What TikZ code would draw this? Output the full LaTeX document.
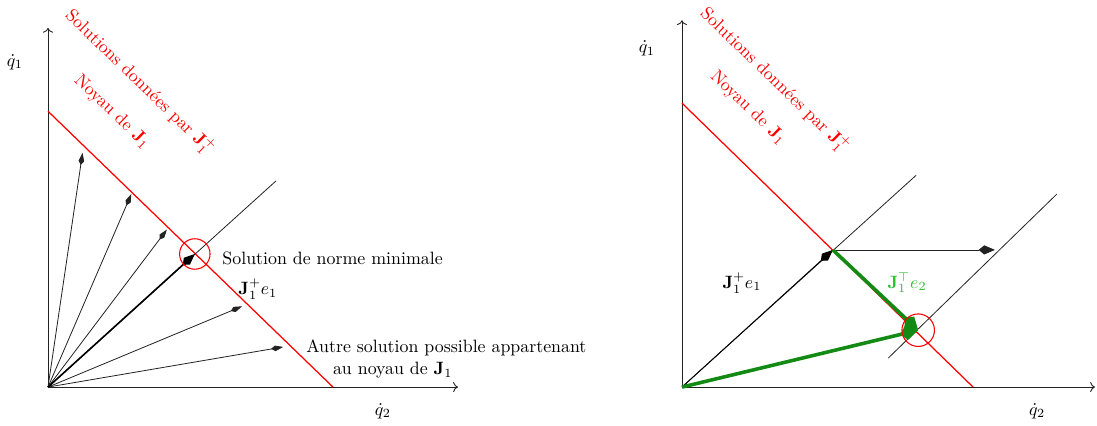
\documentclass[tikz,border=0pt]{standalone}
\usepackage{amsmath,amssymb}
\usetikzlibrary{arrows.meta,positioning,calc}
\definecolor{kgreen}{HTML}{138A13}
\definecolor{klgreen}{HTML}{2EBF2E}
\definecolor{kgray}{HTML}{222222}
\tikzset{
  axis/.style={->, line width=0.5pt, draw=kgray},
  noyau/.style={draw=red, line width=0.7pt},
  diag/.style={line width=0.45pt, draw=kgray},
  sol/.style={-{Kite[length=2.4mm,width=1.1mm,inset=0.8mm]}, line width=0.45pt, draw=kgray},
  solmin/.style={-{Kite[length=3.2mm,width=1.8mm,inset=1.1mm]}, line width=0.9pt, draw=black},
  gvec/.style={-{Kite[length=3.6mm,width=2.8mm,inset=1.2mm]}, line width=2pt, draw=kgreen},
  ring/.style={draw=red, line width=0.6pt},
  redlab/.style={text=red, rotate=-44}
}
\begin{document}
\begin{tikzpicture}
  \useasboundingbox (-0.945,-0.748) rectangle (20.65,7.62);
  % left: fan of solutions
  \begin{scope}
    \coordinate (O1) at (0,0);
    \coordinate (Y1) at (0,7.07);
    \coordinate (X1) at (8.07,0);
    \coordinate (R1a) at (0,5.43);
    \coordinate (R1b) at (5.61,0);
    \coordinate (D1) at (4.49,4.06);
    \coordinate (I1) at (2.89,2.62);
    \draw[axis] (O1) -- (Y1);
    \draw[axis] (O1) -- (X1);
    \draw[noyau] (R1a) -- (R1b);
    \draw[diag] (O1) -- (D1);
    \foreach \i/\x/\y in {1/0.68/4.61, 2/1.64/3.80, 3/2.34/3.10,
                          4/3.82/1.59, 5/4.63/0.79} {
      \coordinate (t\i) at (\x,\y);
      \draw[sol] (O1) -- (t\i);
    }
    \draw[solmin] (O1) -- (I1);
    \draw[ring] (I1) circle (0.3);
    \node (q1a) at (-0.65,6.40) {$\dot q_1$};
    \node (q2a) at (6.59,-0.47) {$\dot q_2$};
    \node[anchor=west] (minlab) at (3.31,2.54) {Solution de norme minimale};
    \node (j1a) at (4.13,1.93) {$\mathbf{J}_1^+ e_1$};
    \node[anchor=west, align=left] (autre) at (4.96,0.55)
      {Autre solution possible appartenant\\\hspace*{15pt}au noyau de $\mathbf{J}_1$};
    \node[redlab] (sola) at (1.81,6.00) {Solutions données par $\mathbf{J}_1^+$};
    \node[redlab] (noya) at (1.26,5.41) {Noyau de $\mathbf{J}_1$};
  \end{scope}
  % right: projection onto the kernel
  \begin{scope}[xshift=12.48cm]
    \coordinate (O2) at (0,0);
    \coordinate (Y2) at (0,7.22);
    \coordinate (X2) at (8.13,0);
    \coordinate (R2a) at (0,5.59);
    \coordinate (R2b) at (5.73,0);
    \coordinate (D2) at (4.61,4.17);
    \coordinate (A2) at (2.97,2.70);
    \coordinate (H2) at (6.16,2.70);
    \coordinate (E2a) at (4.06,0.57);
    \coordinate (E2b) at (7.38,3.80);
    \coordinate (B2) at (4.65,1.12);
    \draw[axis] (O2) -- (Y2);
    \draw[axis] (O2) -- (X2);
    \draw[noyau] (R2a) -- (R2b);
    \draw[diag] (O2) -- (D2);
    \draw[diag] (E2a) -- (E2b);
    \draw[solmin, line width=0.5pt] (O2) -- (A2);
    \draw[diag, -{Kite[length=3.2mm,width=1.8mm,inset=1.1mm]}] (A2) -- (H2);
    \draw[gvec] (A2) -- (B2);
    \draw[gvec] (O2) -- (B2);
    \draw[ring] (B2) circle (0.32);
    \node (q1b) at (-0.69,6.67) {$\dot q_1$};
    \node (q2b) at (6.99,-0.47) {$\dot q_2$};
    \node (j1b) at (1.18,2.05) {$\mathbf{J}_1^+ e_1$};
    \node[text=klgreen] (jtb) at (4.43,2.05) {$\mathbf{J}_1^\top e_2$};
    \node[redlab] (solb) at (1.83,6.04) {Solutions données par $\mathbf{J}_1^+$};
    \node[redlab] (noyb) at (1.30,5.49) {Noyau de $\mathbf{J}_1$};
  \end{scope}
\end{tikzpicture}
\end{document}
